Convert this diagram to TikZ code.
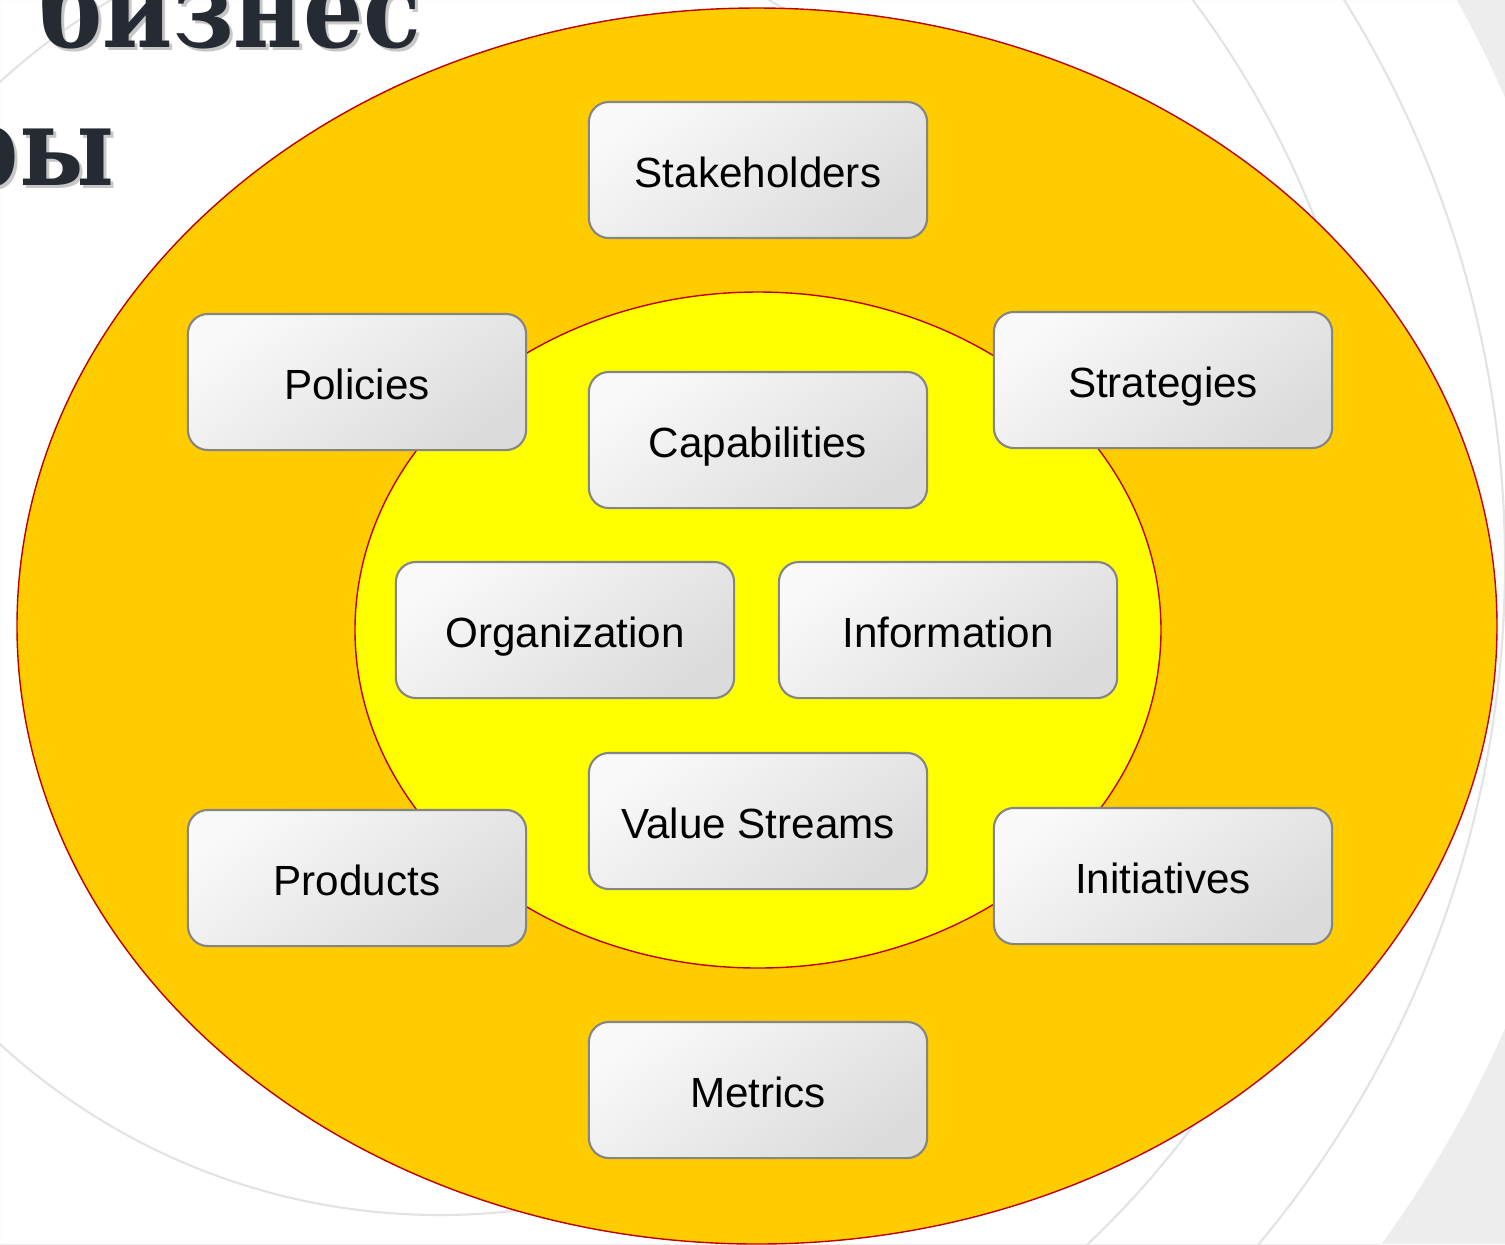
\documentclass[tikz,border=0pt]{standalone}
\usepackage{fontspec}
\setmainfont{Liberation Sans}
\newfontfamily\titlefont{DejaVu Serif}[FakeStretch=0.87]
\usepackage{tikz}

\definecolor{outerfill}{HTML}{FFCC00}
\definecolor{innerfill}{HTML}{FFFF00}
\definecolor{rimred}{HTML}{C00000}
\definecolor{ringgray}{HTML}{E3E3E3}
\definecolor{bggray}{HTML}{EDEDED}
\definecolor{titleink}{HTML}{262A33}
\definecolor{boxline}{HTML}{858585}

\begin{document}
\begin{tikzpicture}[x=0.01cm, y=-0.01cm,
  box/.style={rectangle, rounded corners=0.2cm, draw=boxline, line width=0.6pt,
    minimum width=3.38cm, minimum height=1.36cm, font=\fontsize{12}{14}\selectfont,
    text height=11pt, text depth=1pt,
    top color=gray!5, bottom color=gray!28, shading angle=35},
  ring/.style={draw=ringgray, line width=0.6pt},
  title/.style={font=\titlefont\bfseries\fontsize{31}{36}\selectfont, inner sep=0pt}]
  \useasboundingbox (0,0) rectangle (1505,1244);
  \fill [white] (0,0) rectangle (1505,1244);
  % slide background
  \fill [bggray, even odd rule] (0,0) rectangle (1505,1244) (440,563) circle (1162);
  \draw [ring] (440,563) circle (652);
  \draw [ring] (440,563) circle (940);
  \draw [ring] (440,563) circle (1065);
  % title
  \node [title, anchor=base east, text=black!22] at (425,50) {бизнес};
  \node [title, anchor=base east, text=titleink] (title1) at (422,47) {бизнес};
  \node [title, anchor=base east, text=black!22] at (118,188) {ры};
  \node [title, anchor=base east, text=titleink] (title2) at (115,185) {ры};
  % rings
  \draw [fill=outerfill, draw=rimred, line width=0.4pt] (757,626) ellipse (740 and 618);
  \draw [fill=innerfill, draw=rimred, line width=0.4pt] (758,630) ellipse (403 and 338);
  % boxes
  \node [box] (stake) at (758, 170) {Stakeholders};
  \node [box] (policies) at (357, 382) {Policies};
  \node [box] (strat) at (1163, 380) {Strategies};
  \node [box] (capab) at (758, 440) {Capabilities};
  \node [box] (org) at (565, 630) {Organization};
  \node [box] (info) at (948, 630) {Information};
  \node [box] (value) at (758, 821) {Value Streams};
  \node [box] (products) at (357, 878) {Products};
  \node [box] (init) at (1163, 876) {Initiatives};
  \node [box] (metrics) at (758, 1090) {Metrics};
\end{tikzpicture}
\end{document}
